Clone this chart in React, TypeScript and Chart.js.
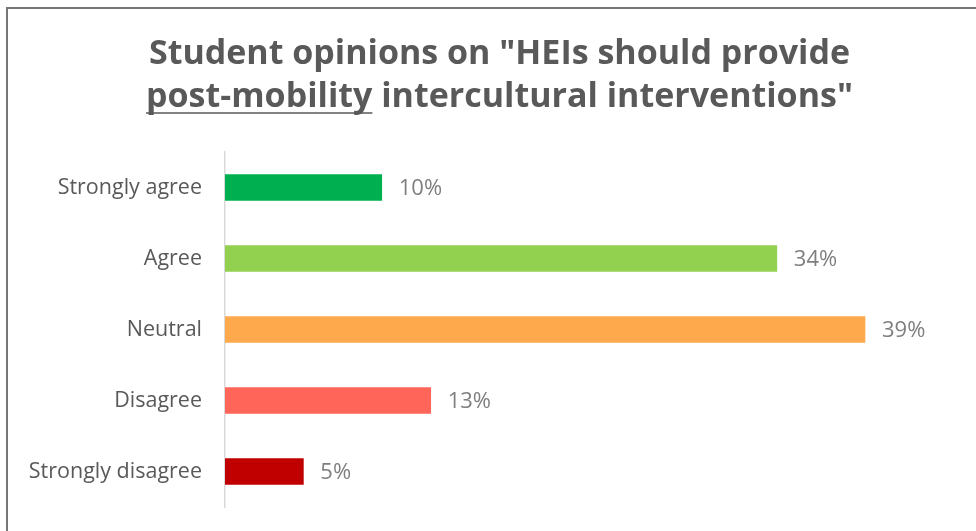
import React, { useEffect, useRef } from "react";
import { Chart, registerables } from "chart.js";

Chart.register(...registerables);

const categories = ["Strongly agree", "Agree", "Neutral", "Disagree", "Strongly disagree"];
const values = [9.6, 33.8, 39.2, 12.6, 4.8];
const barColors = ["#00B050", "#92D050", "#FFA94D", "#FF6659", "#C00000"];
const titleLine1 = "Student opinions on \"HEIs should provide";
const titleLine2Underlined = "post-mobility";
const titleLine2Rest = " intercultural interventions\"";

const FONT = "'Open Sans', 'Noto Sans', sans-serif";

const framePlugin = {
  id: "frame",
  beforeDraw(chart: any) {
    const ctx = chart.ctx;
    ctx.save();
    ctx.fillStyle = "#ffffff";
    ctx.fillRect(0, 0, chart.width, chart.height);
    ctx.strokeStyle = "#767676";
    ctx.lineWidth = 2;
    ctx.strokeRect(7, 8, chart.width + 20, chart.height + 20);
    ctx.restore();
  },
};

const titlePlugin = {
  id: "customTitle",
  afterDraw(chart: any) {
    const ctx = chart.ctx;
    ctx.save();
    ctx.fillStyle = "#595959";
    ctx.font = `bold 34px ${FONT}`;
    ctx.textBaseline = "alphabetic";
    ctx.textAlign = "left";
    const cx = 499.5;
    const w1 = ctx.measureText(titleLine1).width;
    ctx.fillText(titleLine1, cx - w1 / 2, 64);
    const wu = ctx.measureText(titleLine2Underlined).width;
    const wr = ctx.measureText(titleLine2Rest).width;
    const x2 = cx - (wu + wr) / 2;
    ctx.fillText(titleLine2Underlined, x2, 107);
    ctx.fillText(titleLine2Rest, x2 + wu, 107);
    ctx.strokeStyle = "#595959";
    ctx.lineWidth = 1.5;
    ctx.beginPath();
    ctx.moveTo(x2, 113);
    ctx.lineTo(x2 + wu, 113);
    ctx.stroke();
    ctx.restore();
  },
};

const labelPlugin = {
  id: "barLabels",
  afterDatasetsDraw(chart: any) {
    const ctx = chart.ctx;
    const meta = chart.getDatasetMeta(0);
    ctx.save();
    ctx.fillStyle = "#7F7F7F";
    ctx.font = `22px ${FONT}`;
    ctx.textBaseline = "middle";
    ctx.textAlign = "left";
    meta.data.forEach((bar: any, i: number) => {
      ctx.fillText(Math.round(values[i]) + "%", bar.x + 17, bar.y + 1);
    });
    ctx.restore();
  },
};

export default function App() {
  const ref = useRef<HTMLCanvasElement>(null);
  useEffect(() => {
    if (!ref.current) return;
    const chart = new Chart(ref.current, {
      type: "bar",
      data: {
        labels: categories,
        datasets: [
          {
            data: values,
            backgroundColor: barColors,
            borderWidth: 0,
            barThickness: 26,
          },
        ],
      },
      options: {
        indexAxis: "y",
        animation: false,
        responsive: false,
        maintainAspectRatio: false,
        layout: { padding: { top: 152, bottom: 24, left: 0, right: 0 } },
        plugins: {
          legend: { display: false },
          title: { display: false },
          tooltip: { enabled: false },
        },
        scales: {
          x: {
            display: false,
            min: 0,
            max: 46,
          },
          y: {
            afterFit(scale: any) {
              scale.width = 225;
              scale.paddingTop = 0;
              scale.paddingBottom = 0;
            },
            grid: { display: false, drawTicks: false },
            border: { display: true, color: "#D9D9D9", width: 1.5 },
            ticks: {
              color: "#595959",
              font: { family: FONT, size: 21.5 },
              padding: 23,
            },
          },
        },
      },
      plugins: [framePlugin, titlePlugin, labelPlugin],
    });
    return () => chart.destroy();
  }, []);
  return (
    <div style={{ position: "fixed", left: 0, top: 0, width: 976, height: 531, background: "#fff" }}>
      <canvas ref={ref} width={976} height={531} style={{ display: "block" }} />
    </div>
  );
}
